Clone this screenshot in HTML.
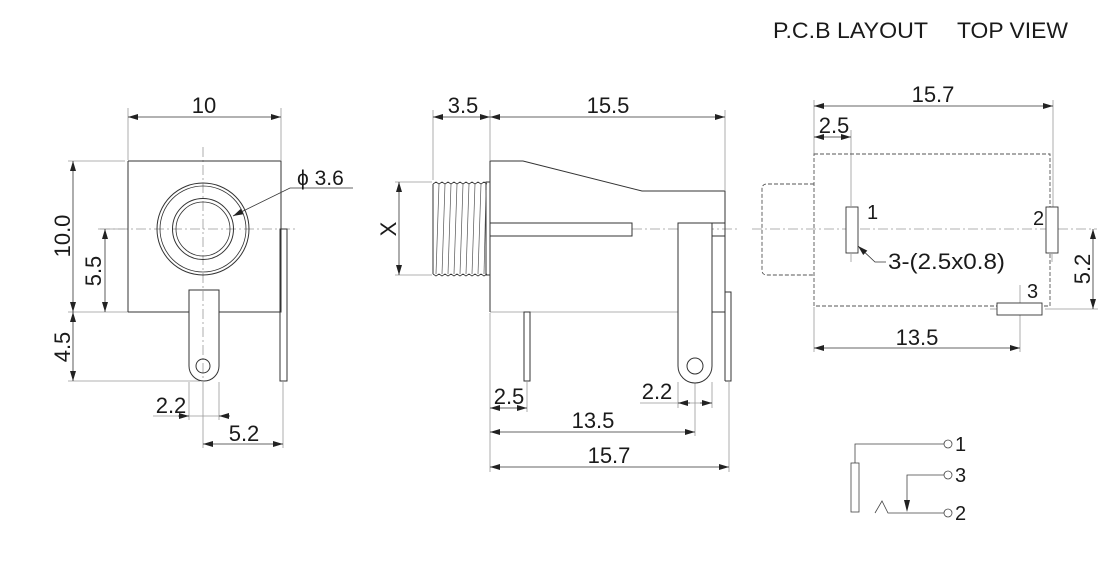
<!DOCTYPE html>
<html><head><style>
html,body{margin:0;padding:0;background:#fff;}
svg{display:block;}
text{font-family:"Liberation Sans",Arial,sans-serif;fill:#1a1a1a;}
</style></head><body>
<svg width="1120" height="578" viewBox="0 0 1120 578" xmlns="http://www.w3.org/2000/svg">
<defs>
<marker id="a" viewBox="0 0 10 6" refX="10" refY="3" markerWidth="10" markerHeight="6" markerUnits="userSpaceOnUse" orient="auto-start-reverse"><path d="M0,0 L10,3 L0,6 z" fill="#222"/></marker>
</defs>
<text x="773" y="38" font-size="22.5" textLength="155" lengthAdjust="spacingAndGlyphs">P.C.B LAYOUT</text>
<text x="957" y="38" font-size="22.5" textLength="111" lengthAdjust="spacingAndGlyphs">TOP VIEW</text>

<!-- LEFT VIEW -->
<g stroke="#999" stroke-width="0.8" fill="none">
<line x1="128" y1="108" x2="128" y2="160"/><line x1="281" y1="108" x2="281" y2="160"/>
<line x1="68" y1="161" x2="125" y2="161"/><line x1="68" y1="312" x2="128" y2="312"/>
<line x1="68" y1="381" x2="200" y2="381"/><line x1="98" y1="229" x2="125" y2="229"/>
<line x1="189" y1="382" x2="189" y2="420"/><line x1="219" y1="382" x2="219" y2="420"/>
<line x1="203" y1="382" x2="203" y2="448"/><line x1="283" y1="382" x2="283" y2="448"/>
<line x1="153" y1="416" x2="219" y2="416"/>
</g>
<g stroke="#999" stroke-width="0.8" stroke-dasharray="10,3,2,3" fill="none">
<line x1="203" y1="147" x2="203" y2="380"/><line x1="100" y1="229" x2="297" y2="229"/>
</g>
<g stroke="#333" stroke-width="1" fill="#fff">
<path d="M128,161 H281 V312 H219 M189,312 H128 Z" fill="none"/>
<line x1="128" y1="161" x2="128" y2="312"/>
<circle cx="203" cy="229" r="46" fill="none"/>
<circle cx="203" cy="229" r="43" fill="none" stroke-width="0.8"/>
<circle cx="203" cy="229" r="30.5" fill="none"/>
<circle cx="203" cy="229" r="27" fill="none" stroke-width="0.8"/>
<path d="M189,290 H219 V366 A15,15 0 0 1 189,366 Z" fill="none"/>
<circle cx="203" cy="366" r="7" fill="none"/>
<rect x="280" y="229" width="7" height="152" fill="none"/>
</g>
<g stroke="#333" stroke-width="0.8" fill="none">
<line x1="128" y1="117" x2="281" y2="117" marker-start="url(#a)" marker-end="url(#a)"/>
<line x1="73" y1="161" x2="73" y2="312" marker-start="url(#a)" marker-end="url(#a)"/>
<line x1="105" y1="229" x2="105" y2="312" marker-start="url(#a)" marker-end="url(#a)"/>
<line x1="73" y1="312" x2="73" y2="381" marker-start="url(#a)" marker-end="url(#a)"/>
<line x1="178" y1="416" x2="189" y2="416" marker-end="url(#a)"/>
<line x1="230" y1="416" x2="219" y2="416" marker-end="url(#a)"/>
<line x1="203" y1="444" x2="283" y2="444" marker-start="url(#a)" marker-end="url(#a)"/>
<polyline points="353,188 290,188 233,216" marker-end="url(#a)"/>
</g>
<text x="204" y="113" font-size="22" text-anchor="middle">10</text>
<text x="297" y="185" font-size="21">ϕ 3.6</text>
<text transform="translate(70,236) rotate(-90)" font-size="22" text-anchor="middle">10.0</text>
<text transform="translate(101,271) rotate(-90)" font-size="22" text-anchor="middle">5.5</text>
<text transform="translate(70,347) rotate(-90)" font-size="22" text-anchor="middle">4.5</text>
<text x="171" y="413" font-size="22" text-anchor="middle">2.2</text>
<text x="244" y="441" font-size="22" text-anchor="middle">5.2</text>

<!-- MIDDLE VIEW -->
<g stroke="#999" stroke-width="0.8" fill="none">
<line x1="433" y1="110" x2="433" y2="180"/><line x1="490" y1="110" x2="490" y2="160"/>
<line x1="725" y1="110" x2="725" y2="190"/>
<line x1="395" y1="182" x2="432" y2="182"/><line x1="395" y1="275" x2="432" y2="275"/>
<line x1="490" y1="313" x2="490" y2="472"/><line x1="527" y1="382" x2="527" y2="412"/>
<line x1="678" y1="382" x2="678" y2="408"/><line x1="712" y1="382" x2="712" y2="408"/>
<line x1="695" y1="382" x2="695" y2="436"/><line x1="729" y1="382" x2="729" y2="472"/>
<line x1="640" y1="403" x2="712" y2="403"/>
<line x1="490" y1="312" x2="678" y2="312"/>
</g>
<g stroke="#999" stroke-width="0.8" stroke-dasharray="10,3,2,3" fill="none">
<line x1="632" y1="229" x2="740" y2="229"/><line x1="695" y1="335" x2="695" y2="380"/>
</g>
<g stroke="#333" stroke-width="1" fill="none">
<path d="M490,312 V161 H523 L642,191 H725 V381"/>
<line x1="712" y1="312" x2="725" y2="312"/>
<rect x="490" y="223" width="142" height="13"/>
<path d="M678,223 H712 V366 A17,17 0 0 1 678,366 Z" fill="#fff"/>
<circle cx="695" cy="366" r="8"/>
<rect x="712" y="223" width="13" height="13"/>
<path d="M725,292 H731 V381 H725"/>
<rect x="524" y="312" width="6" height="69"/>
<rect x="486" y="182" width="4" height="93"/>
<line x1="433" y1="184" x2="433" y2="274"/>
<path d="M433,184 l3,-2 3,2 3,-2 3,2 3,-2 3,2 3,-2 3,2 3,-2 3,2 3,-2 3,2 3,-2 3,2 3,-2 3,2 3,-2 3,2" stroke-width="0.8"/>
<path d="M433,274 l3,2 3,-2 3,2 3,-2 3,2 3,-2 3,2 3,-2 3,2 3,-2 3,2 3,-2 3,2 3,-2 3,2 3,-2 3,2 3,-2" stroke-width="0.8"/>
</g>
<g stroke="#555" stroke-width="0.7" fill="none">
<line x1="439" y1="184" x2="436" y2="274"/><line x1="445" y1="184" x2="442" y2="274"/>
<line x1="451" y1="184" x2="448" y2="274"/><line x1="457" y1="184" x2="454" y2="274"/>
<line x1="463" y1="184" x2="460" y2="274"/><line x1="469" y1="184" x2="466" y2="274"/>
<line x1="475" y1="184" x2="472" y2="274"/><line x1="481" y1="184" x2="478" y2="274"/>
<line x1="486" y1="190" x2="484" y2="274"/>
</g>
<g stroke="#333" stroke-width="0.8" fill="none">
<line x1="433" y1="117" x2="490" y2="117" marker-start="url(#a)" marker-end="url(#a)"/>
<line x1="490" y1="117" x2="725" y2="117" marker-start="url(#a)" marker-end="url(#a)"/>
<line x1="399" y1="182" x2="399" y2="275" marker-start="url(#a)" marker-end="url(#a)"/>
<line x1="490" y1="408" x2="527" y2="408" marker-start="url(#a)" marker-end="url(#a)"/>
<line x1="690" y1="403" x2="678" y2="403" marker-end="url(#a)"/>
<line x1="700" y1="403" x2="712" y2="403" marker-end="url(#a)"/>
<line x1="490" y1="432" x2="695" y2="432" marker-start="url(#a)" marker-end="url(#a)"/>
<line x1="490" y1="467" x2="729" y2="467" marker-start="url(#a)" marker-end="url(#a)"/>
</g>
<text x="463" y="113" font-size="22" text-anchor="middle">3.5</text>
<text x="608" y="113" font-size="22" text-anchor="middle">15.5</text>
<text transform="translate(396,229) rotate(-90)" font-size="22" text-anchor="middle">X</text>
<text x="509" y="404" font-size="22" text-anchor="middle">2.5</text>
<text x="657" y="399" font-size="22" text-anchor="middle">2.2</text>
<text x="593" y="428" font-size="22" text-anchor="middle">13.5</text>
<text x="609" y="463" font-size="22" text-anchor="middle">15.7</text>

<!-- RIGHT VIEW -->
<g stroke="#999" stroke-width="0.8" fill="none">
<line x1="814" y1="100" x2="814" y2="154"/><line x1="1053" y1="100" x2="1053" y2="210"/>
<line x1="851" y1="130" x2="851" y2="206"/><line x1="851" y1="254" x2="851" y2="262"/>
<line x1="814" y1="307" x2="814" y2="352"/><line x1="1020" y1="285" x2="1020" y2="352"/>
<line x1="1052" y1="254" x2="1052" y2="262"/>
<line x1="1045" y1="309" x2="1098" y2="309"/><line x1="990" y1="309" x2="997" y2="309"/>
</g>
<g stroke="#999" stroke-width="0.8" stroke-dasharray="10,3,2,3" fill="none">
<line x1="752" y1="229" x2="1097" y2="229"/>
</g>
<g stroke="#555" stroke-width="0.9" stroke-dasharray="4,2" fill="none">
<path d="M814,154 H1050 V306 H814 Z"/>
<path d="M814,184 H767 Q762,184 762,189 V270 Q762,275 767,275 H814"/>
</g>
<g stroke="#333" stroke-width="0.9" fill="#fff">
<rect x="846" y="207" width="12" height="46"/>
<rect x="1046" y="207" width="12" height="46"/>
<rect x="997" y="303" width="45" height="12"/>
</g>
<g stroke="#333" stroke-width="0.8" fill="none">
<line x1="814" y1="106" x2="1053" y2="106" marker-start="url(#a)" marker-end="url(#a)"/>
<line x1="814" y1="137" x2="851" y2="137" marker-start="url(#a)" marker-end="url(#a)"/>
<line x1="1093" y1="229" x2="1093" y2="309" marker-start="url(#a)" marker-end="url(#a)"/>
<line x1="814" y1="348" x2="1020" y2="348" marker-start="url(#a)" marker-end="url(#a)"/>
<polyline points="886,262 875,262 858,246" marker-end="url(#a)"/>
</g>
<text x="933" y="102" font-size="22" text-anchor="middle">15.7</text>
<text x="834" y="133" font-size="22" text-anchor="middle">2.5</text>
<text x="867" y="219" font-size="20">1</text>
<text x="1033" y="225" font-size="20">2</text>
<text x="1027" y="298" font-size="20">3</text>
<text x="888" y="269" font-size="22" textLength="117" lengthAdjust="spacingAndGlyphs">3-(2.5x0.8)</text>
<text transform="translate(1090,269) rotate(-90)" font-size="22" text-anchor="middle">5.2</text>
<text x="917" y="345" font-size="22" text-anchor="middle">13.5</text>

<!-- SCHEMATIC -->
<g stroke="#444" stroke-width="0.8" fill="none">
<polyline points="855,463 855,444 944,444"/>
<circle cx="948" cy="444" r="4"/>
<rect x="851" y="463" width="8" height="49"/>
<polyline points="944,475 907,475 907,505"/>
<circle cx="948" cy="475" r="4"/>
<polyline points="875,513 882,501 888,513 944,513"/>
<circle cx="948" cy="513" r="4"/>
</g>
<path d="M904,500 L910,500 L907,512 Z" fill="#222"/>
<text x="955" y="451" font-size="20">1</text>
<text x="955" y="482" font-size="20">3</text>
<text x="955" y="520" font-size="20">2</text>
</svg>
</body></html>
